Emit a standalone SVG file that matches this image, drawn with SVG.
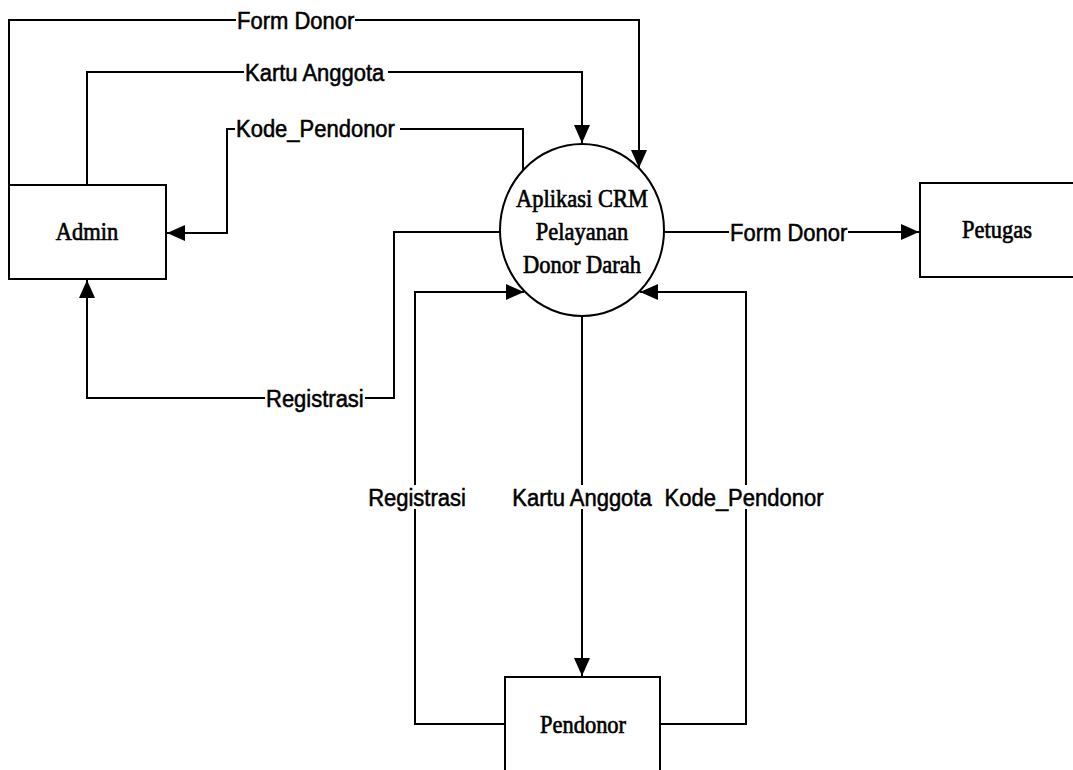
<svg xmlns="http://www.w3.org/2000/svg" width="1073" height="770" viewBox="0 0 1073 770">
  <style>
    .box { fill: #ffffff; stroke: #000000; stroke-width: 2; }
    .flow { fill: none; stroke: #000000; stroke-width: 2; }
    .node-text { font-family: "Liberation Serif", "Times New Roman", serif; font-size: 22.5px; fill: #000000; stroke: #000000; stroke-width: 0.6; text-anchor: middle; }
    .label { font-family: "Liberation Sans", Arial, sans-serif; font-size: 22px; fill: #000000; stroke: #000000; stroke-width: 0.5; }
    .label-bg { fill: #ffffff; }
  </style>
  <defs>
    <marker id="arrow" markerUnits="userSpaceOnUse" markerWidth="19" markerHeight="17" refX="18" refY="8" orient="auto">
      <path d="M0,0 L18,8 L0,16 Z" fill="#000000"/>
    </marker>
  </defs>
  <rect x="0" y="0" width="1073" height="770" fill="#ffffff"/>

  <!-- data flows -->
  <g id="connectors">
    <path class="flow" d="M9,185 V20 H639 V168" marker-end="url(#arrow)"/>
    <path class="flow" d="M87,185 V72 H582 V143" marker-end="url(#arrow)"/>
    <path class="flow" d="M523,170 V129 H227 V233 H167" marker-end="url(#arrow)"/>
    <path class="flow" d="M500,232 H394 V398 H87 V280" marker-end="url(#arrow)"/>
    <path class="flow" d="M664,232 H919" marker-end="url(#arrow)"/>
    <path class="flow" d="M505,724 H415 V292 H524" marker-end="url(#arrow)"/>
    <path class="flow" d="M582,316 V676" marker-end="url(#arrow)"/>
    <path class="flow" d="M660,724 H746 V292 H640" marker-end="url(#arrow)"/>

    <!-- flow labels -->
    <rect class="label-bg" x="236" y="9" width="119" height="22"/>
    <text class="label" transform="translate(237 29) scale(1 1.1)">Form Donor</text>
    <rect class="label-bg" x="244" y="61" width="144" height="22"/>
    <text class="label" transform="translate(245 81) scale(1 1.1)">Kartu Anggota</text>
    <rect class="label-bg" x="235" y="117" width="165" height="24"/>
    <text class="label" transform="translate(236 137) scale(1 1.1)">Kode_Pendonor</text>
    <rect class="label-bg" x="265" y="387" width="100" height="24"/>
    <text class="label" transform="translate(266 407) scale(1 1.1)">Registrasi</text>
    <rect class="label-bg" x="729" y="221" width="119" height="22"/>
    <text class="label" transform="translate(730 241) scale(1 1.1)">Form Donor</text>

    <rect class="label-bg" x="367" y="485" width="100" height="24"/>
    <text class="label" text-anchor="middle" transform="translate(417 506) scale(1 1.1)">Registrasi</text>
    <rect class="label-bg" x="510" y="485" width="144" height="24"/>
    <text class="label" text-anchor="middle" transform="translate(582 506) scale(1 1.1)">Kartu Anggota</text>
    <rect class="label-bg" x="662" y="485" width="165" height="24"/>
    <text class="label" text-anchor="middle" transform="translate(744 506) scale(1 1.1)">Kode_Pendonor</text>
  </g>

  <g id="admin">
    <rect class="box" x="9" y="185" width="157" height="94"/>
    <text class="node-text" transform="translate(87 240) scale(1 1.12)">Admin</text>
  </g>

  <g id="process">
    <ellipse class="box" cx="582" cy="230" rx="82" ry="86"/>
    <text class="node-text" transform="translate(582 207) scale(1 1.12)">Aplikasi CRM</text>
    <text class="node-text" transform="translate(582 240) scale(1 1.12)">Pelayanan</text>
    <text class="node-text" transform="translate(582 273) scale(1 1.12)">Donor Darah</text>
  </g>

  <g id="petugas">
    <rect class="box" x="920" y="183" width="170" height="94"/>
    <text class="node-text" transform="translate(997 238) scale(1 1.12)">Petugas</text>
  </g>

  <g id="pendonor">
    <rect class="box" x="505" y="677" width="155" height="110"/>
    <text class="node-text" transform="translate(583 733) scale(1 1.12)">Pendonor</text>
  </g>
</svg>
